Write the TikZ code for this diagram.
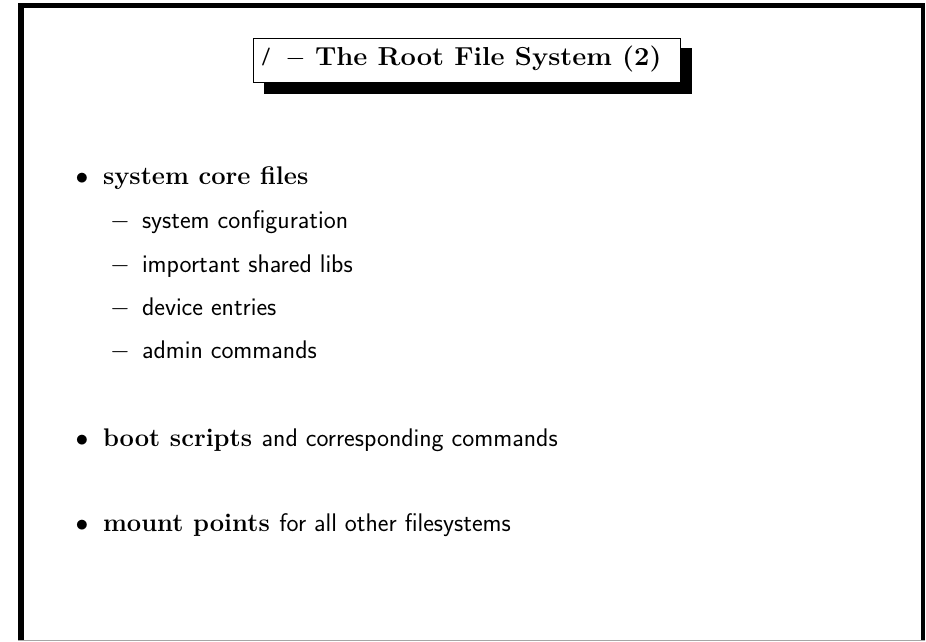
\RequirePackage{fix-cm}
\documentclass[tikz,border=0pt]{standalone}
\usepackage{graphicx}
\begin{document}
\begin{tikzpicture}[x=1pt,y=-1pt,
  every node/.style={inner sep=0pt,outer sep=0pt},
  body/.style={font=\fontsize{25.5}{30}\selectfont},
  itm/.style={body,anchor=base west},
  lbl/.style={body,anchor=base},
  titlefont/.style={font=\fontsize{26}{30}\selectfont},
  titlebox/.style={draw,fill=white,line width=0.9pt,minimum width=427pt,minimum height=44pt}]
\useasboundingbox (0,0) rectangle (926,642);
\fill[white] (0,0) rectangle (926,642);
% frame
\draw[black!35,line width=0.8pt] (18.4,3.4) rectangle (924.6,640.4);
\fill[black] (18,3) rectangle (925,8);
\fill[black] (18,8) rectangle (24,640);
\fill[black] (921,8) rectangle (925,640);
% title
\fill[black] (264,48) rectangle (692,94);
\node[titlebox] (tbox) at (466.5,60) {};
\node[anchor=base west] (tslash) at (261,66) {\raisebox{4.5pt}{\fontsize{18}{20}\selectfont\sffamily\bfseries /}};
\node[titlefont,anchor=base] (tdash) at (295.5,66) {$-$};
\node[titlefont,anchor=base west] (title) at (315,66) {\scalebox{1.05}[1]{\bfseries The Root File System (2)}};
% items
\node[lbl] (m1) at (82,184) {$\bullet$};
\node[itm] (t1) at (103,184) {\bfseries system core files};
\node[lbl] (d1) at (120,228) {$-$};
\node[itm] (s1) at (142,228) {\sffamily system configuration};
\node[lbl] (d2) at (120,272) {$-$};
\node[itm] (s2) at (142,272) {\sffamily important shared libs};
\node[lbl] (d3) at (120,315) {$-$};
\node[itm] (s3) at (142,315) {\sffamily device entries};
\node[lbl] (d4) at (120,358) {$-$};
\node[itm] (s4) at (142,358) {\sffamily admin commands};
\node[lbl] (m2) at (82,446) {$\bullet$};
\node[itm] (t2) at (103,446) {\bfseries boot scripts \mdseries\sffamily and corresponding commands};
\node[lbl] (m3) at (82,531) {$\bullet$};
\node[itm] (t3) at (103,531) {\bfseries mount points \mdseries\sffamily for all other filesystems};
\end{tikzpicture}
\end{document}
